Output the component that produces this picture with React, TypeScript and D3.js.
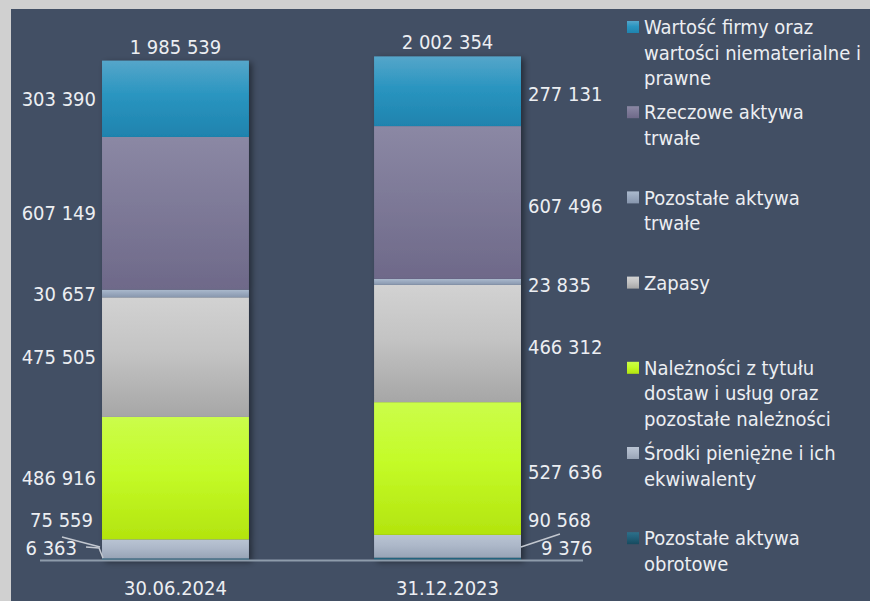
import * as d3 from 'd3';
import React, {useEffect} from 'react';

// dates (x categories)
const categories = ['30.06.2024', '31.12.2023'];

// series values, one entry per date
const wartoscFirmy = [303390, 277131];
const rzeczowe = [607149, 607496];
const pozostaleTrwale = [30657, 23835];
const zapasy = [475505, 466312];
const naleznosci = [486916, 527636];
const srodki = [75559, 90568];
const pozostaleObrotowe = [6363, 9376];

// legend labels (top to bottom), each one split in lines
const legendLabels = [
  ['Wartość firmy oraz', 'wartości niematerialne i', 'prawne'],
  ['Rzeczowe aktywa', 'trwałe'],
  ['Pozostałe aktywa', 'trwałe'],
  ['Zapasy'],
  ['Należności z tytułu', 'dostaw i usług oraz', 'pozostałe należności'],
  ['Środki pieniężne i ich', 'ekwiwalenty'],
  ['Pozostałe aktywa', 'obrotowe'],
];

const FONT = "'DejaVu Sans Condensed', 'DejaVu Sans', sans-serif";

export default function App() {
  const chartRef = React.useRef<SVGSVGElement>(null);

  useEffect(() => {
    drawChart();
  }, []);

  function drawChart() {
    const svg = d3.select(chartRef.current);
    svg.selectAll('*').remove();

    const width = 870, height = 601;

    // series from top of the stack to the bottom
    const series = [
      {key: 'wartosc', values: wartoscFirmy, colors: ['#55a6ca', '#2a95c0', '#1f83ae']},
      {key: 'rzeczowe', values: rzeczowe, colors: ['#8b88a4', '#7e7a98', '#6e6989']},
      {key: 'pozTrwale', values: pozostaleTrwale, colors: ['#abbacd', '#9aa9bf', '#8796ad']},
      {key: 'zapasy', values: zapasy, colors: ['#d2d2d2', '#c4c4c4', '#a6a6a6']},
      {key: 'naleznosci', values: naleznosci, colors: ['#cbfd4a', '#c4fb28', '#b3e40e']},
      {key: 'srodki', values: srodki, colors: ['#b9c4d3', '#adb8c9', '#98a4b6']},
      {key: 'pozObrotowe', values: pozostaleObrotowe, colors: ['#2d708a', '#22607a', '#174a5e']},
    ];

    const rows = categories.map((c, i) => {
      const row: any = {date: c};
      series.forEach(s => { row[s.key] = s.values[i]; });
      return row;
    });

    // stack from the bottom up
    const keysBottomUp = series.map(s => s.key).reverse();
    const stacked = d3.stack().keys(keysBottomUp)(rows);

    const x = d3.scaleBand()
      .domain(categories)
      .range([40, 583])
      .paddingInner(0.46)
      .paddingOuter(0.228);

    const y = d3.scaleLinear()
      .domain([0, 2000000])
      .range([560, 57]);

    // background
    svg.append('rect').attr('width', width).attr('height', height).attr('fill', '#d0d0d0');
    svg.append('rect').attr('x', 11).attr('y', 9).attr('width', width - 11).attr('height', height - 9)
      .attr('fill', '#424f64');

    const defs = svg.append('defs');
    series.forEach(s => {
      const g = defs.append('linearGradient').attr('id', 'grad-' + s.key)
        .attr('x1', 0).attr('y1', 0).attr('x2', 0).attr('y2', 1);
      g.append('stop').attr('offset', '0%').attr('stop-color', s.colors[0]);
      g.append('stop').attr('offset', '45%').attr('stop-color', s.colors[1]);
      g.append('stop').attr('offset', '100%').attr('stop-color', s.colors[2]);
    });
    const shadow = defs.append('filter').attr('id', 'shadow')
      .attr('x', '-10%').attr('y', '-10%').attr('width', '130%').attr('height', '120%');
    shadow.append('feDropShadow').attr('dx', 3).attr('dy', 2).attr('stdDeviation', 3)
      .attr('flood-color', '#000').attr('flood-opacity', 0.45);

    // bars
    const bars = svg.append('g').attr('filter', 'url(#shadow)');
    stacked.forEach(layer => {
      bars.append('g')
        .selectAll('rect')
        .data(layer)
        .enter()
        .append('rect')
        .attr('x', (d: any) => x(d.data.date))
        .attr('y', d => y(d[1]))
        .attr('width', x.bandwidth())
        .attr('height', d => y(d[0]) - y(d[1]))
        .attr('fill', 'url(#grad-' + layer.key + ')');
    });

    // baseline
    svg.append('line')
      .attr('x1', x.range()[0]).attr('x2', x.range()[1])
      .attr('y1', y(0) + 0.5).attr('y2', y(0) + 0.5)
      .attr('stroke', '#8e9cab').attr('stroke-width', 2);

    const textColor = '#eceef2';

    // totals above bars
    svg.append('g')
      .selectAll('text')
      .data(rows)
      .enter()
      .append('text')
      .attr('x', (d: any) => x(d.date)! + x.bandwidth() / 2)
      .attr('y', (d: any) => y(d3.sum(keysBottomUp, k => d[k])) - 7)
      .attr('text-anchor', 'middle')
      .style('font-family', FONT).style('font-size', '20px').style('fill', textColor)
      .text((d: any) => fmt(d3.sum(keysBottomUp, k => d[k])));

    // segment labels: left of first bar, right of second bar
    stacked.forEach(layer => {
      layer.forEach((d: any, i) => {
        const left = i === 0;
        const bx = x(d.data.date)!;
        let ly = (y(d[0]) + y(d[1])) / 2;
        let gap = 6;
        if (layer.key === 'srodki') { ly = y(0) - 40; if (left) gap = 9; }
        if (layer.key === 'pozObrotowe') { ly = y(0) - 12; gap = left ? 25 : 19; }
        if (!left && layer.key !== 'srodki' && layer.key !== 'pozObrotowe') ly += 3;
        svg.append('text')
          .attr('x', left ? bx - gap : bx + x.bandwidth() + gap + 1)
          .attr('y', ly)
          .attr('dy', '0.36em')
          .attr('text-anchor', left ? 'end' : 'start')
          .style('font-family', FONT).style('font-size', '20px').style('fill', textColor)
          .text(fmt(d.data[layer.key]));
      });
    });

    // leader lines for the small bottom segments
    const b1 = x(categories[0])!, b2 = x(categories[1])! + x.bandwidth();
    const leaders = [
      [[b1 - 40, y(0) - 23], [b1 - 2, y(0) - 13]],
      [[b1 - 16, y(0) - 13], [b1 - 3, y(0) - 12], [b1 + 1, y(0) - 2]],
      [[b2 + 39, y(0) - 26], [b2, y(0) - 13]],
    ];
    svg.append('g')
      .selectAll('path')
      .data(leaders)
      .enter()
      .append('path')
      .attr('d', (d: any) => d3.line()(d))
      .attr('fill', 'none')
      .attr('stroke', '#c3c8d0')
      .attr('stroke-width', 1.5);

    // x labels
    svg.append('g')
      .selectAll('text')
      .data(categories)
      .enter()
      .append('text')
      .attr('x', d => x(d)! + x.bandwidth() / 2)
      .attr('y', 595)
      .attr('text-anchor', 'middle')
      .style('font-family', FONT).style('font-size', '20px').style('fill', textColor)
      .text(d => d);

    // legend
    const legend = svg.append('g').attr('transform', 'translate(627,27)');
    legendLabels.forEach((lines, i) => {
      const item = legend.append('g').attr('transform', 'translate(0,' + (i * 85.2) + ')');
      item.append('rect')
        .attr('x', 0).attr('y', -6).attr('width', 12).attr('height', 12)
        .attr('fill', 'url(#grad-' + series[i].key + ')');
      const t = item.append('text')
        .style('font-family', FONT).style('font-size', '20px').style('fill', textColor);
      lines.forEach((line, j) => {
        t.append('tspan').attr('x', 17).attr('y', j * 25.5).attr('dy', '0.36em').text(line);
      });
    });
  }

  function fmt(v: number) {
    return d3.format(',')(v).replace(/,/g, ' ');
  }

  return (
    <svg ref={chartRef} width={870} height={601}
      style={{position: 'absolute', left: 0, top: 0}}></svg>
  );
}
